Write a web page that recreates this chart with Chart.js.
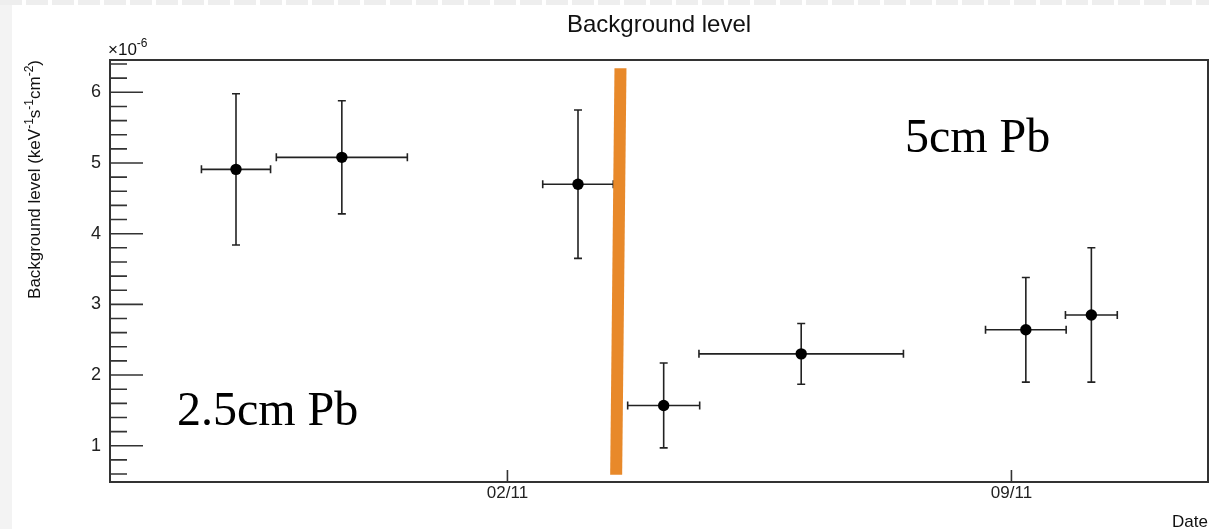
<!DOCTYPE html>
<html>
<head>
<meta charset="utf-8">
<title>Background level</title>
<script src="https://cdn.jsdelivr.net/npm/chart.js@4"></script>
<style>
  html, body { margin: 0; padding: 0; background: #fff; }
  #wrap { width: 1209px; height: 529px; }
</style>
</head>
<body>
<div id="wrap"><canvas id="bkg-chart" width="1209" height="529"></canvas></div>
<script>
// run centre as day of November (02/11 = 2) and half-length of each run in days
const runDay = [-1.77, -0.30, 2.98, 4.17, 6.08, 9.20, 10.11];
const runHalfWidth = [0.48, 0.91, 0.49, 0.50, 1.42, 0.56, 0.36];
// background level, in units of 1e-6 keV^-1 s^-1 cm^-2
const bkgLevel = [4.91, 5.08, 4.70, 1.57, 2.30, 2.64, 2.85];
const bkgError = [1.07, 0.80, 1.05, 0.60, 0.43, 0.74, 0.95];
// shielding change marker, top and bottom end
const shieldX = [3.57, 3.51];
const shieldY = [6.34, 0.59];
// axis ticks
const dayTicks = [2, 9];
const dayLabels = ['02/11', '09/11'];
const levelTicks = [1, 2, 3, 4, 5, 6];
const shieldLabels = ['2.5cm Pb', '5cm Pb'];

const SANS = '"Liberation Sans", Arial, sans-serif';
const SERIF = '"Liberation Serif", "Times New Roman", serif';

document.addEventListener('DOMContentLoaded', function () {
    const ctx = document.getElementById('bkg-chart');

    const pageBackground = {
        id: 'pageBackground',
        beforeDraw(chart) {
            const c = chart.ctx;
            c.save();
            c.fillStyle = '#fff';
            c.fillRect(0, 0, chart.width, chart.height);
            c.fillStyle = '#f3f3f3';
            c.fillRect(0, 0, 12, chart.height);
            c.strokeStyle = '#eeeeee';
            c.lineWidth = 5;
            c.setLineDash([22, 4]);
            c.beginPath();
            c.moveTo(0, 2.5);
            c.lineTo(chart.width, 2.5);
            c.stroke();
            c.restore();
        }
    };

    // horizontal and vertical error bars with short end caps
    const errorBars = {
        id: 'errorBars',
        beforeDatasetsDraw(chart) {
            const c = chart.ctx;
            const x = chart.scales.x, y = chart.scales.y;
            const cap = 4;
            c.save();
            c.strokeStyle = '#222';
            c.lineWidth = 1.6;
            runDay.forEach((d, i) => {
                const px = x.getPixelForValue(d);
                const py = y.getPixelForValue(bkgLevel[i]);
                const x0 = x.getPixelForValue(d - runHalfWidth[i]);
                const x1 = x.getPixelForValue(d + runHalfWidth[i]);
                const y0 = y.getPixelForValue(bkgLevel[i] + bkgError[i]);
                const y1 = y.getPixelForValue(bkgLevel[i] - bkgError[i]);
                c.beginPath();
                c.moveTo(x0, py); c.lineTo(x1, py);
                c.moveTo(px, y0); c.lineTo(px, y1);
                c.moveTo(x0, py - cap); c.lineTo(x0, py + cap);
                c.moveTo(x1, py - cap); c.lineTo(x1, py + cap);
                c.moveTo(px - cap, y0); c.lineTo(px + cap, y0);
                c.moveTo(px - cap, y1); c.lineTo(px + cap, y1);
                c.stroke();
            });
            c.restore();
        }
    };

    // box frame plus inward ticks
    const frameAxes = {
        id: 'frameAxes',
        afterDatasetsDraw(chart) {
            const c = chart.ctx;
            const a = chart.chartArea;
            const x = chart.scales.x, y = chart.scales.y;
            c.save();
            c.strokeStyle = '#333';
            c.lineWidth = 1.6;
            c.beginPath();
            for (let k = 3; k <= 32; k++) {
                const py = y.getPixelForValue(k * 0.2);
                const len = k % 5 === 0 ? 33 : 17;
                c.moveTo(a.left, py);
                c.lineTo(a.left + len, py);
            }
            dayTicks.forEach(d => {
                const px = x.getPixelForValue(d);
                c.moveTo(px, a.bottom);
                c.lineTo(px, a.bottom - 12);
            });
            c.stroke();
            c.lineWidth = 2;
            c.strokeRect(a.left, a.top, a.right - a.left, a.bottom - a.top);
            c.restore();
        }
    };

    const chartText = {
        id: 'chartText',
        afterDraw(chart) {
            const c = chart.ctx;
            const a = chart.chartArea;
            const x = chart.scales.x, y = chart.scales.y;
            c.save();
            c.fillStyle = '#111';

            // title
            c.font = '24px ' + SANS;
            c.textAlign = 'center';
            c.textBaseline = 'middle';
            c.fillText('Background level', (a.left + a.right) / 2, 25);

            // x axis title
            c.font = '17px ' + SANS;
            c.textAlign = 'right';
            c.fillText('Date', a.right, 522);

            // exponent above the y axis
            c.textAlign = 'left';
            c.textBaseline = 'alphabetic';
            c.font = '17px ' + SANS;
            c.fillText('\u00d710', a.left - 2, 55);
            const w10 = c.measureText('\u00d710').width;
            c.font = '12px ' + SANS;
            c.fillText('-6', a.left - 2 + w10, 47);

            // y axis title with superscripts, end aligned at the top of the frame
            const runs = [
                ['Background level (keV', 17, 0],
                ['-1', 12, -7],
                ['s', 17, 0],
                ['-1', 12, -7],
                ['cm', 17, 0],
                ['-2', 12, -7],
                [')', 17, 0]
            ];
            let total = 0;
            runs.forEach(r => { c.font = r[1] + 'px ' + SANS; total += c.measureText(r[0]).width; });
            c.translate(40, a.top + total);
            c.rotate(-Math.PI / 2);
            let pos = 0;
            runs.forEach(r => {
                c.font = r[1] + 'px ' + SANS;
                c.fillText(r[0], pos, r[2]);
                pos += c.measureText(r[0]).width;
            });
            c.setTransform(1, 0, 0, 1, 0, 0);

            // shielding labels
            c.fillStyle = '#000';
            c.font = '48px ' + SERIF;
            c.textAlign = 'left';
            c.textBaseline = 'alphabetic';
            c.fillText(shieldLabels[0], x.getPixelForValue(-2.59), y.getPixelForValue(1.29));
            c.fillText(shieldLabels[1], x.getPixelForValue(7.52), y.getPixelForValue(5.16));
            c.restore();
        }
    };

    const config = {
        type: 'scatter',
        data: {
            datasets: [
                {
                    label: 'Shielding change',
                    data: shieldX.map((v, i) => ({ x: v, y: shieldY[i] })),
                    showLine: true,
                    borderColor: '#e8892a',
                    borderWidth: 12,
                    borderCapStyle: 'butt',
                    pointRadius: 0,
                    order: 0
                },
                {
                    label: 'Background level',
                    data: runDay.map((d, i) => ({ x: d, y: bkgLevel[i] })),
                    backgroundColor: '#000',
                    borderWidth: 0,
                    pointRadius: 5.7,
                    order: 1
                }
            ]
        },
        options: {
            responsive: false,
            animation: false,
            events: [],
            layout: { autoPadding: false, padding: { top: 60, right: 1, left: 0, bottom: 0 } },
            plugins: {
                legend: { display: false },
                tooltip: { enabled: false },
                title: { display: false }
            },
            scales: {
                x: {
                    type: 'linear',
                    min: -3.52,
                    max: 11.73,
                    grid: { display: false, drawTicks: false },
                    border: { display: false },
                    afterBuildTicks: s => { s.ticks = dayTicks.map(v => ({ value: v })); },
                    afterFit: s => { s.height = 47; },
                    ticks: {
                        padding: 1,
                        color: '#222',
                        font: { family: SANS, size: 17 },
                        callback: v => dayLabels[dayTicks.indexOf(v)]
                    }
                },
                y: {
                    type: 'linear',
                    min: 0.487,
                    max: 6.457,
                    grid: { display: false, drawTicks: false },
                    border: { display: false },
                    afterBuildTicks: s => { s.ticks = levelTicks.map(v => ({ value: v })); },
                    afterFit: s => { s.width = 110; },
                    ticks: {
                        padding: 9,
                        color: '#222',
                        font: { family: SANS, size: 18 },
                        callback: v => String(v)
                    }
                }
            }
        },
        plugins: [pageBackground, errorBars, frameAxes, chartText]
    };

    new Chart(ctx, config);
});
</script>
</body>
</html>
